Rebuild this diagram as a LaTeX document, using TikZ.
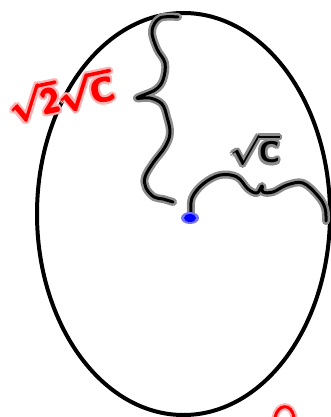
\documentclass[tikz,border=0pt]{standalone}
\usepackage{graphicx}
\usepackage{amsmath}
\usetikzlibrary{calc}
\newcommand{\redlab}{\scalebox{1.35}{\Huge\boldmath$\sqrt{\mathsf{2}}\sqrt{\mathsf{C}}$}}
\newcommand{\blklab}{\scalebox{1.2}{\Huge\boldmath$\sqrt{\mathsf{C}}$}}
\begin{document}
\begin{tikzpicture}[x=1pt,y=-1pt,
  halo/.style={line width=8pt,color=black!45,line cap=round,line join=round},
  core/.style={line width=3pt,color=black,line cap=round,line join=round},
  redhalo/.style={line width=7pt,color=red!30,line cap=round},
  redcore/.style={line width=3pt,color=red,line cap=round}]
\useasboundingbox (0,0) rectangle (331,417);
% egg
\draw[line width=4pt] (183.5,214) ellipse [x radius=146.5, y radius=201];
% wiggly line from top
\def\pathA{plot[smooth,tension=0.6] coordinates {(178,17) (160,18) (152,31) (157,49) (165,63) (163,80) (155,90) (137,98) (150,98) (162,104) (167,117) (170,133) (165,147) (153,163) (145,177) (146,188) (154,197) (163,199) (173,202)}}
\draw[halo] \pathA;
\draw[core] \pathA;
% wiggly line from dot to right side
\def\pathB{plot[smooth,tension=0.6] coordinates {(191,214) (192,198) (203,184) (220,175) (237,177) (248,189) (257,193) (262,186) (263,192) (273,192) (287,185) (303,183) (318,196) (325,208) (326,221)}}
\draw[halo] \pathB;
\draw[core] \pathB;
% blue dot
\fill[blue!55] (190,218) ellipse [x radius=9, y radius=6];
\fill[blue] (190,218) ellipse [x radius=6, y radius=4];
% labels (drawn several times, offset, for a thick hand-drawn look)
\foreach \a in {0,30,...,330}{
  \node[text=black!45, inner sep=0pt] at ($(255,150)+(\a:2.5pt)$) {\blklab};
  \node[text=red!30, rotate=12, inner sep=0pt] at ($(61,96)+(\a:3pt)$) {\redlab};
}
\foreach \a in {0,90,180,270}{
  \node[text=red, rotate=12, inner sep=0pt] at ($(61,96)+(\a:0.8pt)$) {\redlab};
}
\node[text=black, inner sep=0pt] (lc) at (255,150) {\blklab};
\node[text=red, rotate=12, inner sep=0pt] (l2c) at (61,96) {\redlab};
% cut red mark at bottom
\draw[redhalo] (275,418) .. controls (277,404) and (292,402) .. (294,418);
\draw[redcore] (275,418) .. controls (277,404) and (292,402) .. (294,418);
\end{tikzpicture}
\end{document}
